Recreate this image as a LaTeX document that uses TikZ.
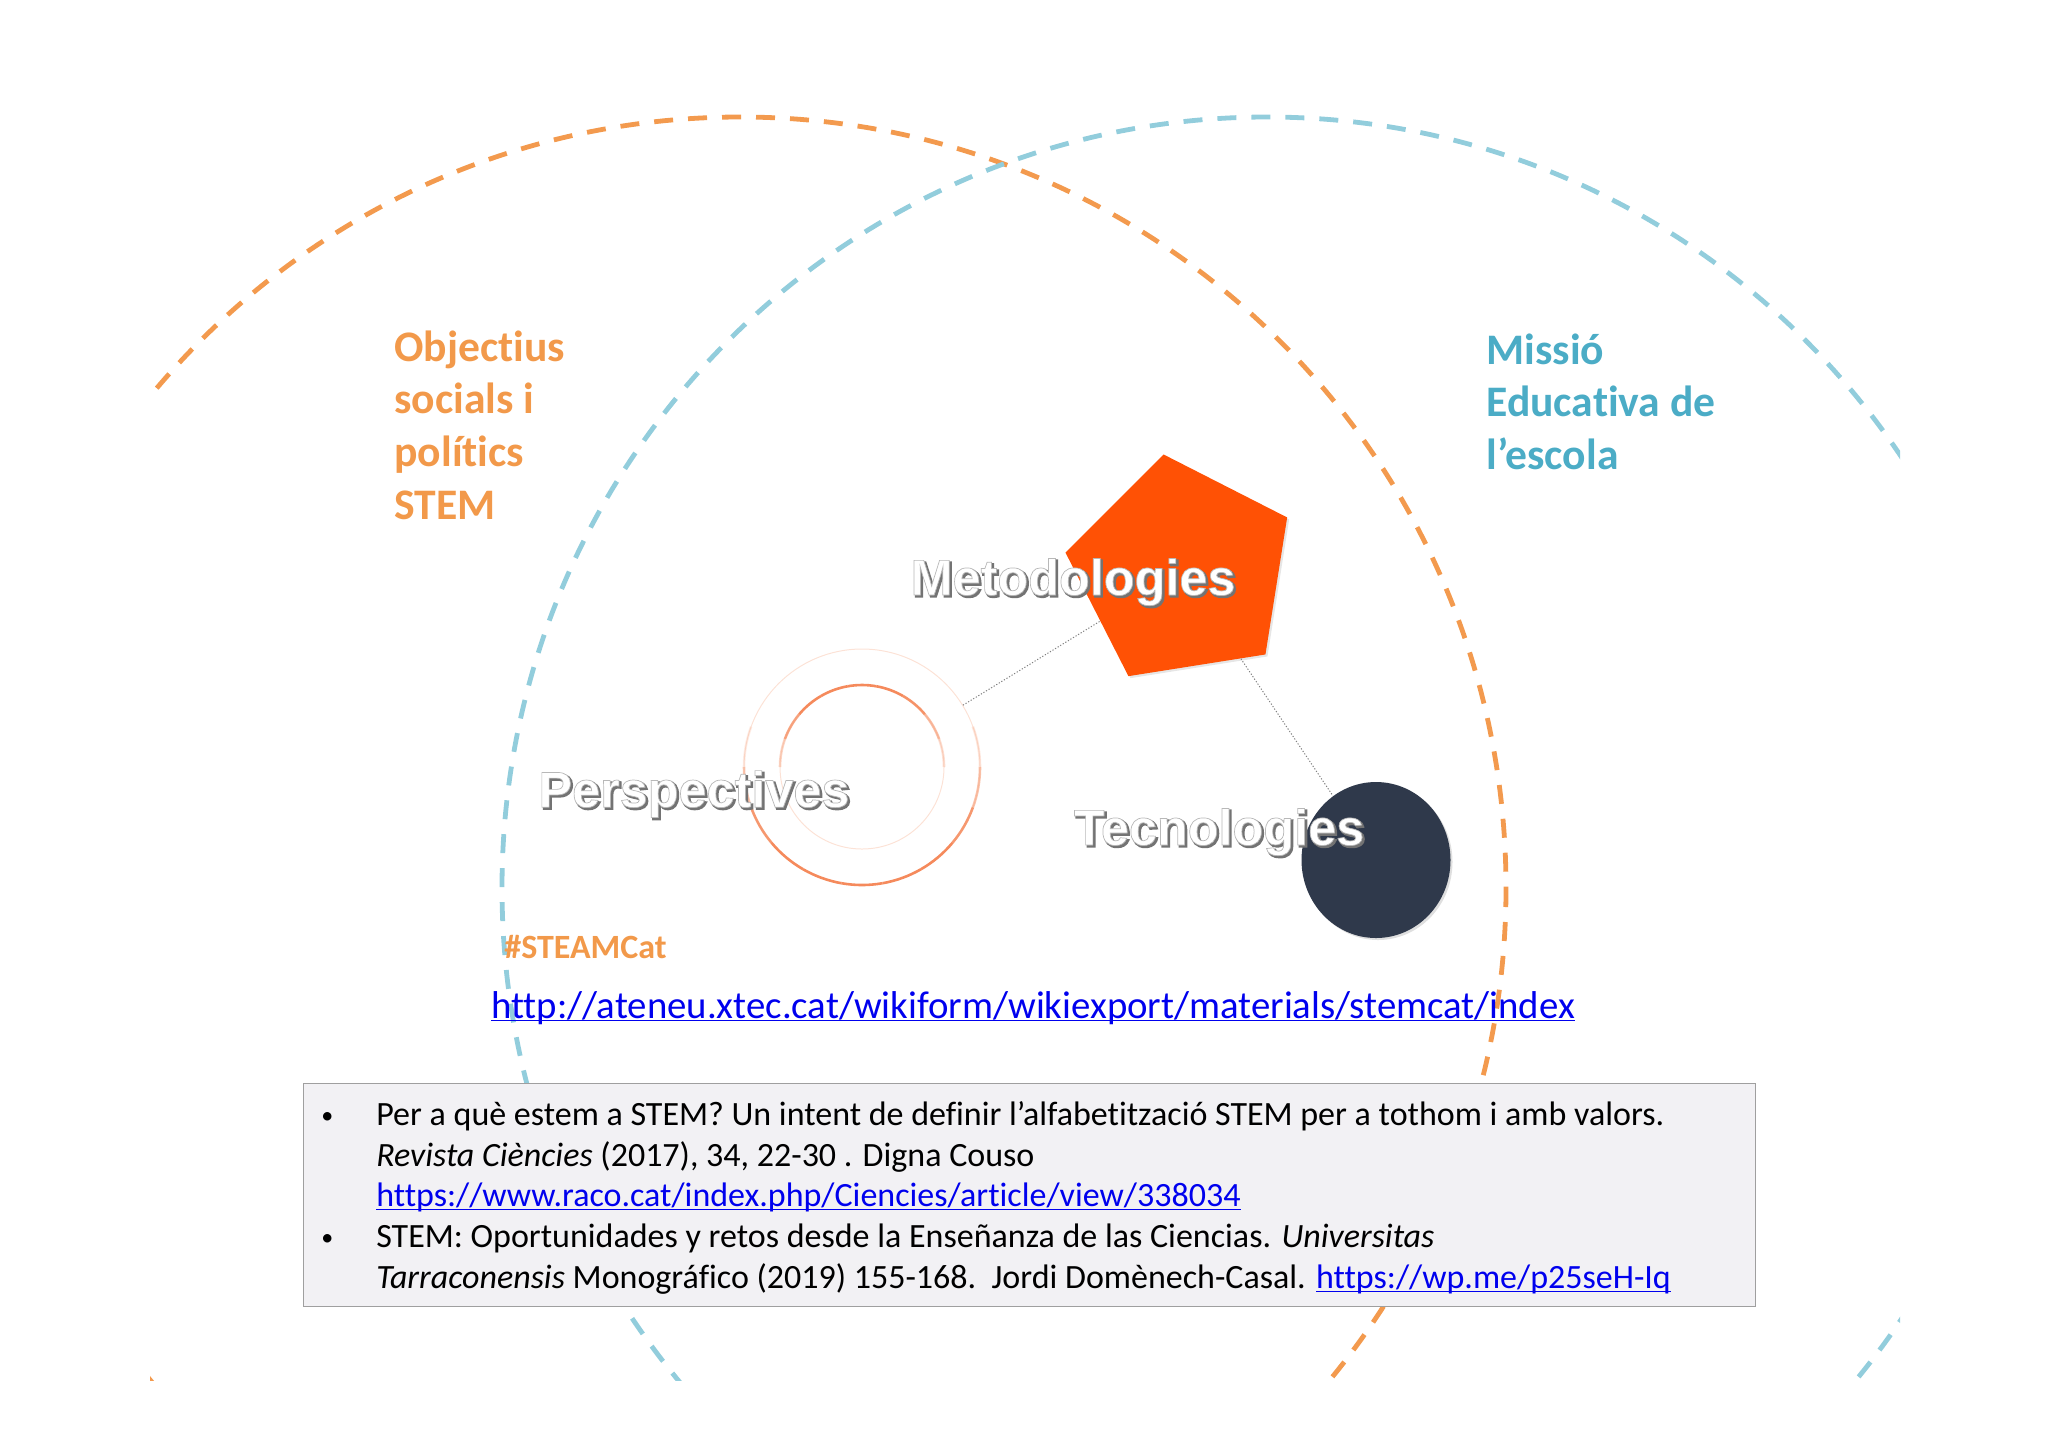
\documentclass[tikz,border=0pt]{standalone}
\usepackage{fontspec}
\usepackage{xcolor}
\usetikzlibrary{shapes.geometric,shadows}
\setmainfont[Ligatures=NoCommon]{Carlito}
\newfontfamily\labelfont{Liberation Sans}
\definecolor{orangeline}{HTML}{F39A4E}
\definecolor{blueline}{HTML}{92CDDC}
\definecolor{orangetext}{HTML}{F2994A}
\definecolor{bluetext}{HTML}{4BACC6}
\definecolor{pentafill}{HTML}{FF5105}
\definecolor{darkfill}{HTML}{2F394B}
\definecolor{ringline}{HTML}{F58A5C}
\definecolor{linkblue}{HTML}{0000EE}
\definecolor{boxfill}{HTML}{F2F1F4}
\newcommand{\linktext}[1]{\underline{\smash{#1}}}
\newcommand{\smallbullet}{\llap{\fontsize{12}{12}\selectfont\raisebox{1pt}{\textbullet}\hspace{21.5pt}}}
\newcommand{\shadowed}[1]{\rlap{\hspace{0.9pt}\raisebox{-0.9pt}{\textcolor{black!55}{\special{pdf: code q 2 Tr 0.45 0.45 0.45 RG 0.9 w}#1\special{pdf: code Q}}}}\special{pdf: code q 2 Tr 0.72 0.72 0.72 RG 0.35 w}#1\special{pdf: code Q}}
\tikzset{
    arc-line/.style = {line width=2.4pt, dash pattern=on 9.5pt off 7.5pt},
    topic-label/.style = {font=\bfseries\fontsize{21.8}{26.4}\selectfont, align=left, anchor=north west, inner sep=0pt},
    shape-label/.style = {font=\labelfont\bfseries\fontsize{25.2}{28}\selectfont, text=white, inner sep=0pt},
    link-line/.style = {draw=gray, dash pattern=on 0.6pt off 0.9pt, line width=0.5pt},
    ref-box/.style = {draw=gray!75, fill=boxfill, line width=0.7pt, rectangle, inner sep=0pt, anchor=north west, minimum width=726pt, minimum height=111.5pt},
}
\begin{document}
\begin{tikzpicture}[x=0.5pt,y=-0.5pt]
\useasboundingbox (0,0) rectangle (2048,1447);
% big arcs
\begin{scope}
    \clip (150,100) rectangle (1900,1380);
    \draw[arc-line, orangeline] (740,888) ellipse [x radius=766, y radius=771];
    \draw[arc-line, blueline] (1267,888) ellipse [x radius=765, y radius=771];
\end{scope}

\node[topic-label, text=orangetext] (objectius) at (394,330) {Objectius\\socials i\\polítics\\STEM};
\node[topic-label, text=bluetext] (missio) at (1486,333) {Missió\\Educativa de\\l’escola};

% the three shapes
\node[circle, draw=none, inner sep=0pt, minimum size=118pt] (ring) at (862,767) {};
\draw[ringline!25, line width=0.5pt] (862,767) circle (118);
\draw[ringline!25, line width=0.5pt] (862,767) circle (82);
\foreach \a/\o in {-20/20,0/50,20/85,40/100,60/100,80/100,100/100,120/100,140/85,160/45,180/15}
    \draw[ringline, opacity=\o/100, line width=1.3pt] (862,767) ++(\a:118) arc[start angle=\a, end angle=\a+20, radius=118];
\foreach \a/\o in {0/25,-20/55,-40/90,-60/100,-80/100,-100/100,-120/100,-140/75,-160/35}
    \draw[ringline, opacity=\o/100, line width=1.3pt] (862,767) ++(\a:82) arc[start angle=\a, end angle=\a-20, radius=82];
\node[regular polygon, regular polygon sides=5, shape border rotate=9, minimum size=118pt, inner sep=0pt, fill=pentafill, drop shadow={opacity=0.2, shadow xshift=1pt, shadow yshift=-1pt}] (penta) at (1182,571) {};
\node[ellipse, minimum width=74.5pt, minimum height=78pt, inner sep=0pt, fill=darkfill, drop shadow={opacity=0.25, shadow xshift=1pt, shadow yshift=-1pt}] (dark) at (1376,860) {};
\draw[link-line] (ring) -- (penta);
\draw[link-line] (penta) -- (dark);

\node[shape-label] (metodologies) at (1073,583) {\shadowed{Metodologies}};
\node[shape-label] (perspectives) at (694,795) {\shadowed{Perspectives}};
\node[shape-label] (tecnologies) at (1219,833) {\shadowed{Tecnologies}};

\node[anchor=base west, inner sep=0pt, text=orangetext, font=\bfseries\fontsize{17}{19}\selectfont] (hashtag) at (504,958) {\#STEAMCat};
\node[anchor=base west, inner sep=0pt, text=linkblue, font=\fontsize{19.4}{23}\selectfont] (url) at (491,1018) {\linktext{http://ateneu.xtec.cat/wikiform/wikiexport/materials/stemcat/index}};

\node[ref-box] (refs) at (303,1083) {\begin{minipage}[c][111.5pt][c]{726pt}
    \vspace*{2.6pt}
    \fontsize{17}{20.35}\selectfont
    \setlength{\leftskip}{36.3pt}
    \noindent\smallbullet Per a què estem a STEM? Un intent de definir l’alfabetització STEM per a tothom i amb valors.\\
    \textit{Revista Ciències} (2017), 34, 22-30 . Digna Couso\\
    \textcolor{linkblue}{\linktext{https://www.raco.cat/index.php/Ciencies/article/view/338034}}\\
    \smallbullet STEM: Oportunidades y retos desde la Enseñanza de las Ciencias. \textit{Universitas}\\
    \textit{Tarraconensis} Monográfico (2019) 155-168.\ \ Jordi Domènech-Casal. \textcolor{linkblue}{\linktext{https://wp.me/p25seH-Iq}}
\end{minipage}};
\end{tikzpicture}
\end{document}
